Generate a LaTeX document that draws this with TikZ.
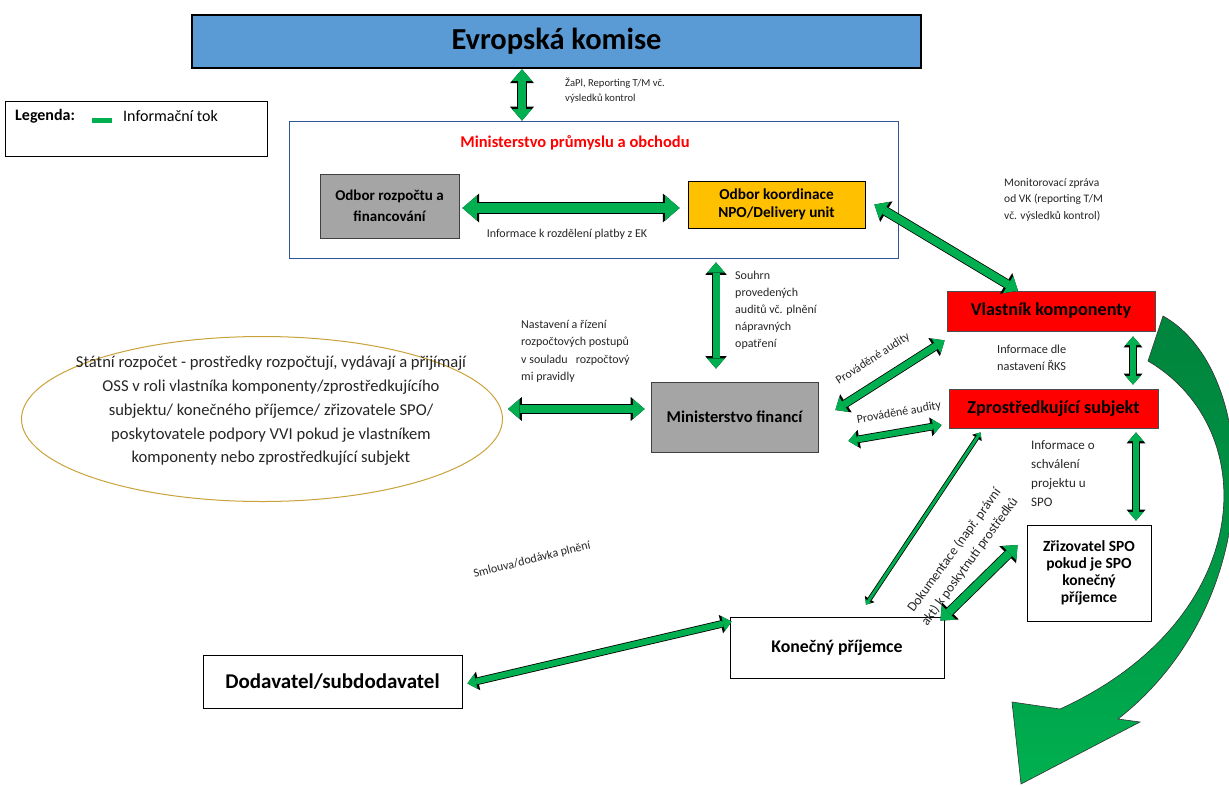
\documentclass[tikz,border=0pt]{standalone}
\usepackage{fontspec}
\setmainfont{Carlito}
\usetikzlibrary{arrows.meta,shapes.geometric}
\definecolor{ekblue}{HTML}{5B9BD5}
\definecolor{mpoblue}{HTML}{2F5597}
\definecolor{boxgray}{HTML}{A5A5A5}
\definecolor{npoorange}{HTML}{FFC000}
\definecolor{ellgold}{HTML}{C9A23A}
\definecolor{flowgreen}{HTML}{00B050}
\definecolor{bigdark}{HTML}{00843D}
\tikzset{
  box/.style={draw=black, line width=0.8pt, rectangle, inner sep=0pt, align=center},
  graybox/.style={box, fill=boxgray, draw=black!75},
  redbox/.style={box, fill=red, draw=black!70},
  flow/.style={draw=flowgreen, line width=#1pt,
    {Triangle[length=0pt 1.45, width=0pt 2.5, line width=0pt, fill=flowgreen]}-{Triangle[length=0pt 1.45, width=0pt 2.5, line width=0pt, fill=flowgreen]},
    preaction={draw=black, line width=#1pt+1.6pt,
      {Triangle[length=0pt 1.45, width=0pt 2.5, line width=0pt]}-{Triangle[length=0pt 1.45, width=0pt 2.5, line width=0pt]}}},
  flow/.default=7,
  lbl/.style={inner sep=0pt, align=left, text=black!85},
}
\begin{document}
\begin{tikzpicture}[x=1pt,y=-1pt]
\useasboundingbox[fill=white] (0,0) rectangle (1229,785);
\node[box, fill=ekblue, line width=2.5pt, minimum width=729pt, minimum height=53pt, font=\bfseries\fontsize{30.5}{32}\selectfont] (ek) at (556.5,41.5) {Evropská komise};
\node[box, minimum width=262pt, minimum height=55pt] (legend) at (136,128.5) {};
\node[inner sep=0pt, anchor=west, font=\bfseries\fontsize{16}{18}\selectfont] (lgtitle) at (15,116) {Legenda:};
\node[inner sep=0pt, fill=flowgreen, minimum width=20pt, minimum height=5pt] (lgbar) at (102,120.5) {};
\node[inner sep=0pt, anchor=west, font=\fontsize{16}{18}\selectfont] (lgtext) at (123,116) {Informační tok};
\node[box, draw=mpoblue, minimum width=609pt, minimum height=137pt] (mpo) at (593.5,189.5) {};
\node[inner sep=0pt, text=red, font=\bfseries\fontsize{16.5}{18}\selectfont] (mpotitle) at (575,143) {Ministerstvo průmyslu a obchodu};
\node[graybox, minimum width=139pt, minimum height=64pt, font=\bfseries\fontsize{15}{21}\selectfont] (orf) at (389.5,206) {Odbor rozpočtu a\\financování};
\node[box, fill=npoorange, minimum width=177pt, minimum height=47pt, font=\bfseries\fontsize{15.3}{18}\selectfont] (oknpo) at (776.5,204.5) {Odbor koordinace\\NPO/Delivery unit};
\node[redbox, minimum width=208pt, minimum height=40pt, font=\bfseries\fontsize{18.2}{20}\selectfont] (vk) at (1051,311) {Vlastník komponenty};
\node[graybox, minimum width=167pt, minimum height=70pt, font=\bfseries\fontsize{16.5}{18}\selectfont] (mf) at (734.5,417) {Ministerstvo financí};
\node[redbox, minimum width=209pt, minimum height=39pt, font=\bfseries\fontsize{18.2}{20}\selectfont] (zs) at (1053.5,408.5) {Zprostředkující subjekt};
\node[box, minimum width=124pt, minimum height=96pt, font=\bfseries\fontsize{15.5}{17}\selectfont] (zrz) at (1089,573) {Zřizovatel SPO\\pokud je SPO\\konečný\\příjemce};
\node[box, minimum width=214pt, minimum height=61pt, font=\bfseries\fontsize{17.8}{20}\selectfont] (kp) at (837,647.5) {Konečný příjemce};
\node[box, minimum width=259pt, minimum height=53pt, font=\bfseries\fontsize{21}{23}\selectfont] (dod) at (332.5,681.5) {Dodavatel/subdodavatel};
\node[ellipse, draw=ellgold, line width=1pt, minimum width=481pt, minimum height=165pt] (sr) at (262,419) {};
\node[inner sep=0pt, align=center, text=black!85, font=\fontsize{16.6}{23.7}\selectfont] (srtext) at ([shift={(9pt,8pt)}]sr.center) {Státní rozpočet - prostředky rozpočtují, vydávají a přijímají\\OSS v roli vlastníka komponenty/zprostředkujícího\\subjektu/ konečného příjemce/ zřizovatele SPO/\\poskytovatele podpory VVI pokud je vlastníkem\\komponenty nebo zprostředkující subjekt};
\node[lbl, anchor=north west, font=\fontsize{10.6}{15}\selectfont] (lek) at (565,78) {ŽaPl, Reporting T/M vč.\\výsledků kontrol};
\node[lbl, font=\fontsize{12}{14}\selectfont] (lorf) at (567,234) {Informace k rozdělení platby z EK};
\node[lbl, anchor=north west, font=\fontsize{11.5}{16.5}\selectfont] (lmon) at (1004,178) {Monitorovací zpráva\\od VK (reporting T/M\\vč. výsledků kontrol)};
\node[lbl, anchor=north west, font=\fontsize{12}{17}\selectfont] (lsouhrn) at (735,271) {Souhrn\\provedených\\auditů vč. plnění\\nápravných\\opatření};
\node[lbl, anchor=north west, font=\fontsize{12}{17.5}\selectfont] (lnast) at (521,320) {Nastavení a řízení\\rozpočtových postupů\\v souladu \ \ rozpočtový\\mi pravidly};
\node[lbl, rotate=33, font=\fontsize{12}{14}\selectfont] (laud1) at (873,359) {Prováděné audity};
\node[lbl, rotate=10, font=\fontsize{12}{14}\selectfont] (laud2) at (899,413) {Prováděné audity};
\node[lbl, anchor=north west, font=\fontsize{12.3}{16.5}\selectfont] (lrks) at (997,345) {Informace dle\\nastavení ŘKS};
\node[lbl, anchor=north west, font=\fontsize{13}{19}\selectfont] (lschv) at (1031,440) {Informace o\\schválení\\projektu u\\SPO};
\node[lbl, rotate=54, align=center, font=\fontsize{13.5}{19}\selectfont] (ldok) at (962,556) {Dokumentace (např. právní\\akt) k poskytnutí prostředků};
\node[lbl, rotate=14, font=\fontsize{12}{14}\selectfont] (lsml) at (532,560) {Smlouva/dodávka plnění};
\draw[flow=8] ([xshift=-34.5pt]ek.south) -- ([xshift=-34.5pt]ek.south |- mpo.north);
\draw[flow=10] ([shift={(3pt,-2pt)}]orf.east) -- ([shift={(-8pt,-2pt)}]orf.east -| oknpo.west);
\draw[flow=8] ([xshift=9pt]oknpo.east) -- ([xshift=-33pt]vk.north);
\draw[flow=7] ([xshift=-18.5pt,yshift=-4pt]mf.north |- mpo.south) -- ([xshift=-18.5pt,yshift=13pt]mf.north);
\draw[flow=8] ([xshift=5pt,yshift=10pt]sr.east) -- ([xshift=-6pt,yshift=8pt]mf.west);
\draw[flow=7] ([shift={(17pt,7pt)}]mf.east) -- ([shift={(-2pt,-9pt)}]vk.south west);
\draw[flow=6] ([shift={(30pt,-24pt)}]mf.east) -- ([shift={(-7pt,-16.5pt)}]zs.west);
\draw[flow=6] ([shift={(82pt,-5pt)}]vk.south) -- ([shift={(82pt,4pt)}]vk.south |- zs.north);
\draw[flow=6] ([shift={(82.5pt,-4pt)}]zs.south) -- ([shift={(82.5pt,4pt)}]zs.south |- zrz.north);
\draw[flow=3] ([shift={(32pt,-4pt)}]zs.south west) -- ([shift={(29pt,12pt)}]kp.north);
\draw[flow=8] ([shift={(-9pt,28pt)}]zrz.west) -- ([shift={(-4pt,-4pt)}]kp.north east);
\draw[flow=6] ([shift={(5pt,-2pt)}]dod.east) -- ([shift={(2pt,-5pt)}]kp.north west);
\draw[draw=black!80, line width=0.6pt, top color=bigdark, bottom color=flowgreen, middle color=bigdark!60!flowgreen]
  (1163,316) .. controls (1260,370) and (1270,600) .. (1118,719)
  -- (1140,722) -- (1021,784) -- (1012,702) -- (1060,709)
  .. controls (1255,620) and (1265,430) .. (1148,361) -- cycle;
\end{tikzpicture}
\end{document}
